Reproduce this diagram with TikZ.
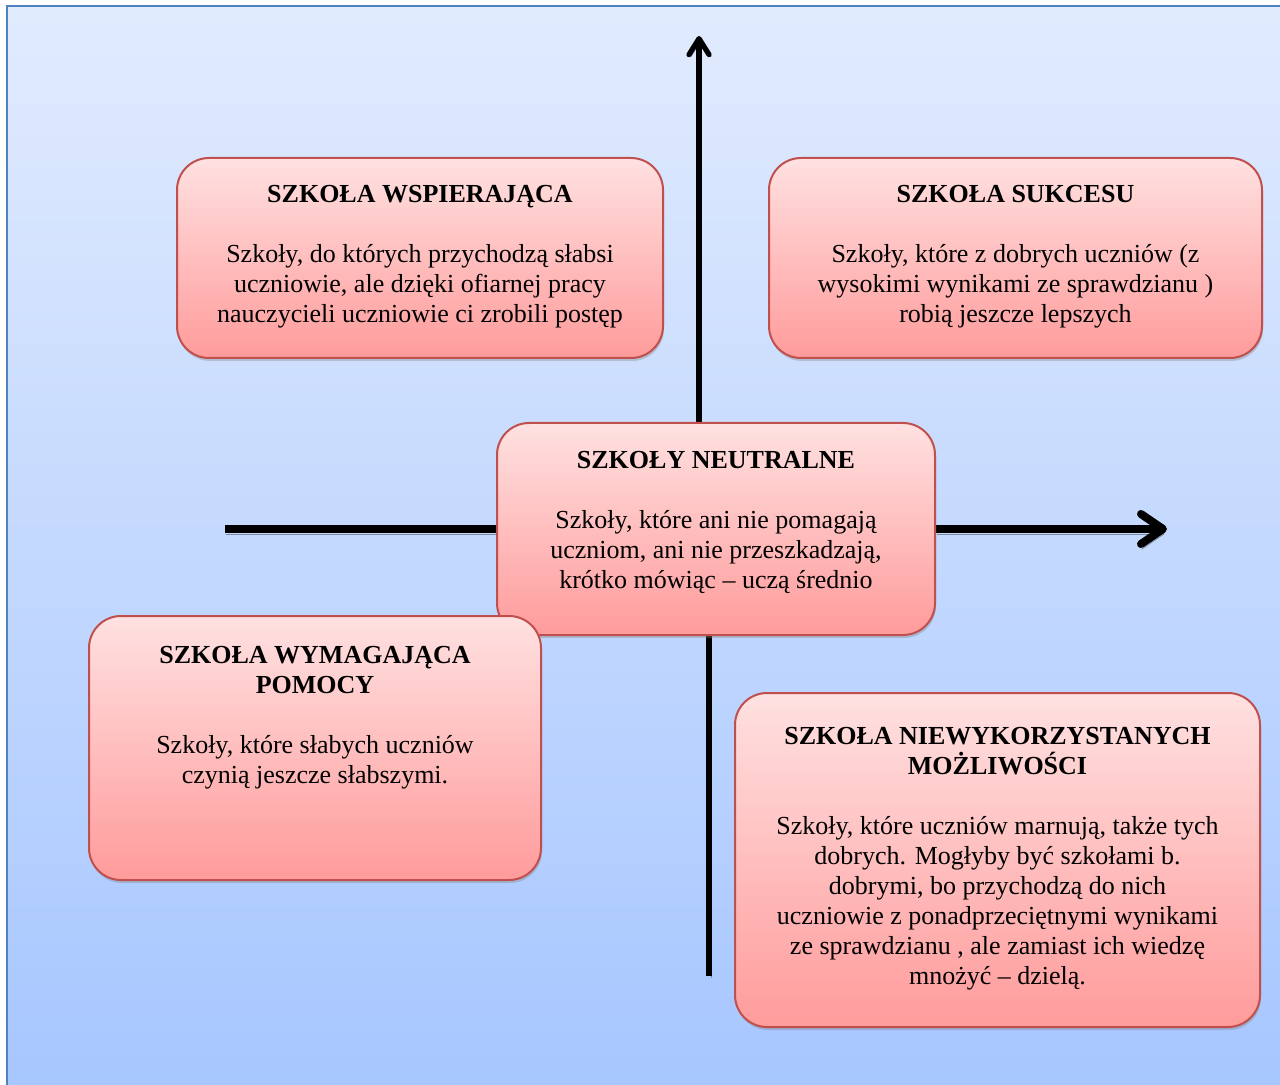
\documentclass[tikz,border=0pt]{standalone}
\usepackage{fontspec}
\setmainfont{Liberation Serif}
\usetikzlibrary{arrows.meta,positioning,shadows,backgrounds}

\definecolor{frameblue}{RGB}{79,129,189}
\definecolor{bgtop}{RGB}{225,235,254}
\definecolor{bgbottom}{RGB}{166,198,255}
\definecolor{boxtop}{RGB}{255,225,225}
\definecolor{boxbottom}{RGB}{255,155,155}
\definecolor{boxedge}{RGB}{192,80,77}
\definecolor{axisshade}{RGB}{125,137,160}

\begin{document}
\begin{tikzpicture}[
  x=0.5pt, y=-0.5pt,
  quadrant/.style={draw=boxedge, line width=1pt, rounded corners=16pt,
    top color=boxtop, bottom color=boxbottom,
    drop shadow={shadow xshift=0.5pt, shadow yshift=-1.5pt, opacity=0.35}},
  blurb/.style={anchor=north, align=center, inner sep=0pt,
    font=\fontsize{13}{15}\selectfont},
  hline/.style={line width=4pt,
    preaction={draw=axisshade, transform canvas={xshift=0.5pt, yshift=-2.5pt}}},
  vline/.style={line width=2.6pt,
    preaction={draw=axisshade, transform canvas={xshift=1pt, yshift=-1pt}}}
]
\useasboundingbox (0,0) rectangle (1280,1085);
\clip (0,0) rectangle (1280,1085);

% quadrants
\node[quadrant, minimum width=243pt, minimum height=100pt] (wsp) at (420,258) {};
\node[quadrant, minimum width=246.5pt, minimum height=100pt] (suk) at (1015.5,258) {};
\node[quadrant, minimum width=219pt, minimum height=106pt] (neu) at (716,529) {};
\node[quadrant, minimum width=226pt, minimum height=132pt] (wym) at (315,748) {};
\node[quadrant, minimum width=262.5pt, minimum height=167pt] (niew) at (997.5,860) {};

\node[blurb] (wsp-txt) at ([yshift=-14pt]wsp.north)
  {\textbf{SZKOŁA WSPIERAJĄCA}\\[15pt]
   Szkoły, do których przychodzą słabsi\\
   uczniowie, ale dzięki ofiarnej pracy\\
   nauczycieli uczniowie ci zrobili postęp};
\node[blurb] (suk-txt) at ([yshift=-14pt]suk.north)
  {\textbf{SZKOŁA SUKCESU}\\[15pt]
   Szkoły, które z dobrych uczniów (z\\
   wysokimi wynikami ze sprawdzianu )\\
   robią jeszcze lepszych};
\node[blurb] (neu-txt) at ([yshift=-14.5pt]neu.north)
  {\textbf{SZKOŁY NEUTRALNE}\\[15pt]
   Szkoły, które ani nie pomagają\\
   uczniom, ani nie przeszkadzają,\\
   krótko mówiąc – uczą średnio};
\node[blurb] (wym-txt) at ([yshift=-15.5pt]wym.north)
  {\textbf{SZKOŁA WYMAGAJĄCA}\\
   \textbf{POMOCY}\\[15pt]
   Szkoły, które słabych uczniów\\
   czynią jeszcze słabszymi.};
\node[blurb] (niew-txt) at ([yshift=-17.5pt]niew.north)
  {\textbf{SZKOŁA NIEWYKORZYSTANYCH}\\
   \textbf{MOŻLIWOŚCI}\\[15pt]
   Szkoły, które uczniów marnują, także tych\\
   dobrych. Mogłyby być szkołami b.\\
   dobrymi, bo przychodzą do nich\\
   uczniowie z ponadprzeciętnymi wynikami\\
   ze sprawdzianu , ale zamiast ich wiedzę\\
   mnożyć – dzielą.};

% axis ends
\coordinate (h-west) at (225,529);
\coordinate (h-east) at (1167,529);
\coordinate (v-north) at (699,36);
\coordinate (v-south) at (709,976);

\begin{scope}[on background layer]
\draw[frameblue, line width=1pt, top color=bgtop, bottom color=bgbottom]
  (7,6) rectangle (1300,1100);
\draw[hline] (h-west) -- (neu.west);
\draw[hline, -{Straight Barb[length=11pt, width=15pt, round]}] (neu.east) -- (h-east);
\draw[vline, -{Straight Barb[length=8pt, width=10pt, round]}] (v-north |- neu.north) -- (v-north);
\draw[vline] (v-south |- neu.south) -- (v-south);
\end{scope}
\end{tikzpicture}
\end{document}
